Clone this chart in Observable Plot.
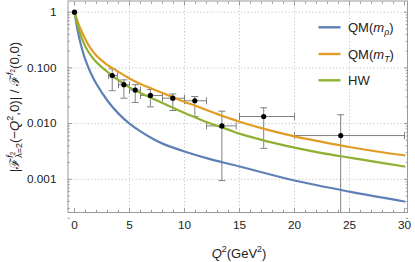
<!DOCTYPE html>
<html><head><meta charset="utf-8">
<script src="https://cdn.jsdelivr.net/npm/d3@7"></script>
<script src="https://cdn.jsdelivr.net/npm/@observablehq/plot@0.6"></script>
<style>body{margin:0;background:#fff}</style>
</head><body><div id="chart"></div>
<script>
// ---- Curves ----
const qmRhoQ2 = [0, 0.25, 0.5, 1, 1.5, 2, 3, 4, 5, 6, 7, 8, 10, 12, 15, 20, 25, 30];
const qmRhoF  = [1, 0.513, 0.302, 0.138, 0.0794, 0.0513, 0.0257, 0.0151, 0.0100, 0.00724, 0.0055, 0.00437, 0.00316, 0.0024, 0.0017, 0.00095, 0.0006, 0.0004];

const qmTQ2 = [0, 0.25, 0.5, 1, 1.5, 2, 2.5, 3, 3.5, 4, 5, 6, 7, 8, 9, 10, 11, 12, 13, 14, 15, 17.5, 20, 22.5, 25, 27.5, 30];
const qmTF  = [1, 0.71, 0.525, 0.324, 0.219, 0.166, 0.135, 0.112, 0.098, 0.085, 0.0646, 0.0513, 0.0427, 0.0355, 0.0295, 0.0245, 0.0209, 0.0176, 0.0148, 0.0126, 0.0108, 0.0078, 0.0059, 0.0047, 0.0038, 0.00316, 0.0027];

const hwQ2 = [0, 0.25, 0.5, 1, 1.5, 2, 2.5, 3, 3.5, 4, 5, 6, 7, 8, 9, 10, 11, 12, 13, 14, 15, 17.5, 20, 22.5, 25, 27.5, 30];
const hwF  = [1, 0.617, 0.417, 0.24, 0.166, 0.126, 0.102, 0.085, 0.0708, 0.0603, 0.0447, 0.0355, 0.0288, 0.0234, 0.0191, 0.0155, 0.0129, 0.0107, 0.0091, 0.0078, 0.0066, 0.0048, 0.0037, 0.00295, 0.00245, 0.00204, 0.0017];

// ---- Data points with error bars ----
const dataQ2   = [0, 3.43, 4.49, 5.52, 6.9, 8.94, 10.94, 13.4, 17.2, 24.2];
const dataF    = [1, 0.073, 0.050, 0.040, 0.032, 0.0286, 0.0257, 0.0091, 0.0134, 0.0061];
const dataQ2Lo = [0, 3.1, 4.0, 5.0, 6.0, 8.0, 10.0, 12.0, 15.0, 20.0];
const dataQ2Hi = [0, 3.9, 5.0, 6.0, 8.0, 10.0, 12.0, 14.7, 20.0, 30.0];
const dataFLo  = [1, 0.039, 0.0286, 0.024, 0.020, 0.0172, 0.0134, 0.00095, 0.0036, 0.0001];
const dataFHi  = [1, 0.096, 0.061, 0.050, 0.041, 0.034, 0.0306, 0.0167, 0.0192, 0.0144];

// ---- Ticks ----
const xTicks = [0, 5, 10, 15, 20, 25, 30];
const xGrid = [5, 10, 15, 20, 25];
const yTicks = [1, 0.1, 0.01, 0.001];
const yTickLabels = ["1", "0.100", "0.010", "0.001"];

const seriesNames = ["QM(mρ)", "QM(mT)", "HW"];
const colors = ["#5E81B5", "#E19C24", "#8FB032"];

const curves = [
  ...qmRhoQ2.map((q, i) => ({q, f: qmRhoF[i], s: seriesNames[0]})),
  ...qmTQ2.map((q, i) => ({q, f: qmTF[i], s: seriesNames[1]})),
  ...hwQ2.map((q, i) => ({q, f: hwF[i], s: seriesNames[2]}))
];
const pts = dataQ2.map((q, i) => ({q, f: dataF[i], qlo: dataQ2Lo[i], qhi: dataQ2Hi[i], flo: dataFLo[i], fhi: dataFHi[i]}));
const bars = pts.slice(1);

const xMinorTicks = d3.range(0, 31).filter(v => v % 5 !== 0);
const yMinorTicks = [];
for (const e of [-4, -3, -2, -1]) for (let m = 2; m <= 9; m++) yMinorTicks.push(m * Math.pow(10, e));

const hCap = {draw(ctx, size) { const h = Math.sqrt(size / Math.PI); ctx.moveTo(-h, 0); ctx.lineTo(h, 0); }};
const vCap = {draw(ctx, size) { const h = Math.sqrt(size / Math.PI); ctx.moveTo(0, -h); ctx.lineTo(0, h); }};

const frameColor = "#9a9a9a";
const barColor = "#808080";
const gridStyle = {stroke: "#c4c4c4", strokeOpacity: 1, strokeDasharray: "1.2,2.2", strokeWidth: 1};

const ml = 67.5, mr = 8, mt = 0.5, mb = 50;
const pxPerUnit = 11, x0px = 74;
const xDomain = [-(x0px - ml) / pxPerUnit, (415 - mr - x0px) / pxPerUnit];
const y1px = 11.7, pxPerDecade = 55.7;
const yDomain = [Math.pow(10, -(262 - mb - y1px) / pxPerDecade), Math.pow(10, (y1px - mt) / pxPerDecade)];

const svg = Plot.plot({
  width: 415, height: 262,
  marginLeft: ml, marginRight: mr, marginTop: mt, marginBottom: mb,
  style: {fontFamily: "'Liberation Sans', Arial, sans-serif", fontSize: "11.8px", background: "#fff", color: "#222"},
  x: {domain: xDomain, axis: null},
  y: {type: "log", domain: yDomain, axis: null},
  color: {domain: seriesNames, range: colors},
  marks: [
    Plot.gridX(xGrid, gridStyle),
    Plot.gridY(yTicks, gridStyle),
    Plot.ruleX(bars, {x: "q", y1: "flo", y2: "fhi", stroke: barColor, strokeWidth: 1, clip: true}),
    Plot.ruleY(bars, {y: "f", x1: "qlo", x2: "qhi", stroke: barColor, strokeWidth: 1, clip: true}),
    Plot.dot(bars, {x: "q", y: "flo", symbol: hCap, r: 3.5, stroke: barColor, fill: "none", strokeWidth: 1, clip: true}),
    Plot.dot(bars, {x: "q", y: "fhi", symbol: hCap, r: 3.5, stroke: barColor, fill: "none", strokeWidth: 1, clip: true}),
    Plot.dot(bars, {x: "qlo", y: "f", symbol: vCap, r: 3.5, stroke: barColor, fill: "none", strokeWidth: 1, clip: true}),
    Plot.dot(bars, {x: "qhi", y: "f", symbol: vCap, r: 3.5, stroke: barColor, fill: "none", strokeWidth: 1, clip: true}),
    Plot.line(curves, {x: "q", y: "f", z: "s", stroke: "s", strokeWidth: 2.2, curve: "catmull-rom", clip: true}),
    Plot.dot(pts, {x: "q", y: "f", r: 2.6, fill: "#000", stroke: "none"}),
    Plot.frame({stroke: frameColor}),
    // major / minor inward ticks on all four sides
    Plot.axisX({ticks: xTicks, anchor: "bottom", tickSize: -4, fill: "none", stroke: frameColor, label: null}),
    Plot.axisX({ticks: xTicks, anchor: "top", tickSize: -4, fill: "none", stroke: frameColor, label: null}),
    Plot.axisX({ticks: xMinorTicks, anchor: "bottom", tickSize: -2.3, fill: "none", stroke: frameColor, label: null}),
    Plot.axisX({ticks: xMinorTicks, anchor: "top", tickSize: -2.3, fill: "none", stroke: frameColor, label: null}),
    Plot.axisY({ticks: yTicks, anchor: "left", tickSize: -4, fill: "none", stroke: frameColor, label: null}),
    Plot.axisY({ticks: yTicks, anchor: "right", tickSize: -4, fill: "none", stroke: frameColor, label: null}),
    Plot.axisY({ticks: yMinorTicks, anchor: "left", tickSize: -2.3, fill: "none", stroke: frameColor, label: null}),
    Plot.axisY({ticks: yMinorTicks, anchor: "right", tickSize: -2.3, fill: "none", stroke: frameColor, label: null}),
    // tick labels
    Plot.axisX({ticks: xTicks, anchor: "bottom", tickSize: 0, tickPadding: 8.5, fill: "#222", label: null, tickFormat: d => String(d)}),
    Plot.axisY({ticks: yTicks, anchor: "left", tickSize: 0, tickPadding: 11.5, fill: "#222", label: null,
      tickFormat: d => yTickLabels[yTicks.indexOf(d)]})
  ]
});
document.getElementById("chart").appendChild(svg);

// ---- rich-text helper (real SVG text) ----
function layout(g, runs, x0, baseDy, size) {
  let cx = x0;
  for (const r of runs) {
    if (r.stack) {
      const s = size * (r.scale || 1);
      const w1 = layout(g, r.sup || [], cx, baseDy + (r.supDy || 0), s) - cx;
      const w2 = layout(g, r.sub || [], cx, baseDy + (r.subDy || 0), s) - cx;
      cx += Math.max(w1, w2) + (r.after || 0);
    } else {
      const s = size * (r.scale || 1);
      const t = g.append("text").attr("x", cx).attr("y", baseDy + (r.dy || 0))
        .attr("text-anchor", "start")
        .attr("font-size", s).attr("font-style", r.italic ? "italic" : null).text(r.t);
      cx += t.node().getComputedTextLength() + (r.after || 0);
    }
  }
  return cx;
}
function rich(parent, runs, {x, y, size, rotate = 0, anchor = "start", fill = "#222"}) {
  const g = d3.select(parent).append("g")
    .attr("transform", `translate(${x},${y}) rotate(${rotate})`)
    .attr("fill", fill)
    .attr("text-anchor", "start")
    .attr("font-family", "'Liberation Sans', Arial, sans-serif");
  const inner = g.append("g");
  const w = layout(inner, runs, 0, 0, size);
  if (anchor === "middle") inner.attr("transform", `translate(${-w / 2},0)`);
  return g;
}

// y-axis label
rich(svg, [
  {t: "|"}, {t: "ℱ"},
  {stack: true, scale: 0.68, supDy: -5.8, subDy: 3.7,
    sup: [{t: "f", italic: true}, {t: "2", scale: 0.7, dy: 1.8}],
    sub: [{t: "λ=2"}]},
  {t: "(−"}, {t: "Q", italic: true}, {t: "2", scale: 0.68, dy: -5.3}, {t: ",0)| / "}, {t: "ℱ"},
  {stack: true, scale: 0.68, supDy: -5.8,
    sup: [{t: "f", italic: true}, {t: "2", scale: 0.7, dy: 1.8}], sub: []},
  {t: "(0,0)"}
], {x: 18.5, y: 107, size: 13.2, rotate: -90, anchor: "middle"});

// x-axis label
rich(svg, [
  {t: "Q", italic: true}, {t: "2", scale: 0.68, dy: -5.5}, {t: "(GeV"}, {t: "2", scale: 0.68, dy: -5.5}, {t: ")"}
], {x: 239, y: 257.5, size: 13, anchor: "middle"});

// legend
const legendRuns = [
  [{t: "QM("}, {t: "m", italic: true}, {t: "ρ", italic: true, scale: 0.68, dy: 3}, {t: ")"}],
  [{t: "QM("}, {t: "m", italic: true}, {t: "T", italic: true, scale: 0.68, dy: 3}, {t: ")"}],
  [{t: "HW"}]
];
const legendY = [27.3, 54, 80.3];
const lg = d3.select(svg).append("g");
legendRuns.forEach((runs, i) => {
  lg.append("line").attr("x1", 318.5).attr("x2", 340.5).attr("y1", legendY[i]).attr("y2", legendY[i])
    .attr("stroke", colors[i]).attr("stroke-width", 2.4);
  rich(svg, runs, {x: 348, y: legendY[i] + 4.6, size: 13});
});
</script>
</body></html>
